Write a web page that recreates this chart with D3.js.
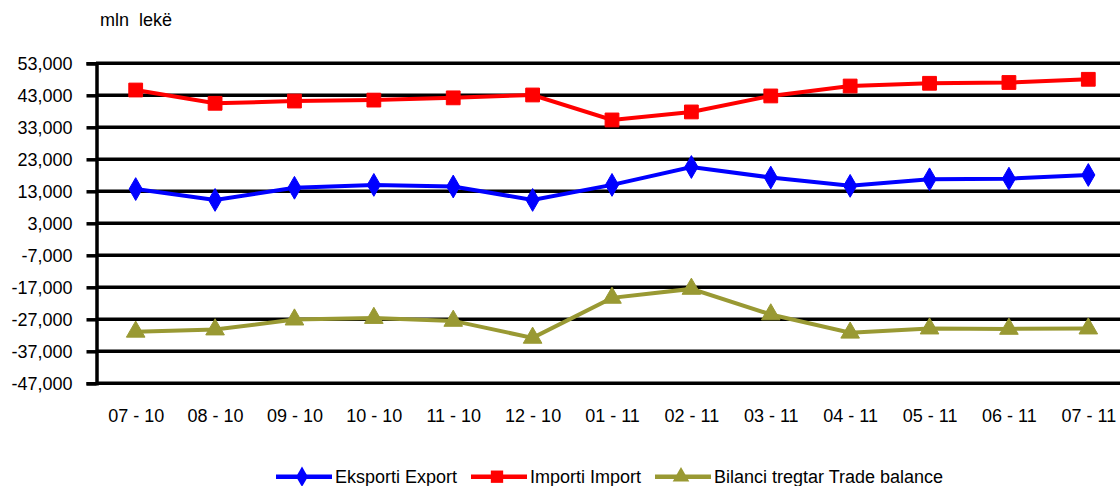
<!DOCTYPE html>
<html><head><meta charset="utf-8">
<script src="https://cdn.jsdelivr.net/npm/d3@7"></script>
<style>body{margin:0;background:#fff}svg{display:block;font-family:"Liberation Sans",Arial,sans-serif}</style>
</head><body><svg id="c" width="1120" height="486"></svg>
<script>
const categories = ["07 - 10","08 - 10","09 - 10","10 - 10","11 - 10","12 - 10","01 - 11","02 - 11","03 - 11","04 - 11","05 - 11","06 - 11","07 - 11"];
const exportVals = [13700,10300,14100,15000,14500,10300,15000,20600,17300,14700,16750,16950,18100];
const importVals = [44650,40500,41200,41500,42200,43100,35300,37800,42800,45900,46750,47000,48000];
const balanceVals = [-30900,-30200,-27100,-26600,-27500,-32800,-20300,-17500,-25500,-31200,-29900,-30000,-29900];
const yTicks = [53000,43000,33000,23000,13000,3000,-7000,-17000,-27000,-37000,-47000];
const seriesNames = ["Eksporti Export","Importi Import","Bilanci tregtar Trade balance"];

const svg = d3.select("#c");
const x = d3.scalePoint().domain(categories).range([96, 1128]).padding(0.5);
const y = d3.scaleLinear().domain([-47000, 53000]).range([383.3, 63.3]);

// gridlines
svg.append("g").selectAll("line").data(yTicks).join("line")
  .attr("x1", 96).attr("x2", 1130).attr("y1", d => y(d)).attr("y2", d => y(d))
  .attr("stroke", "#000").attr("stroke-width", 3.5);

// y axis
const fmt = d3.format(",");
const yAxis = d3.axisLeft(y).tickValues(yTicks).tickSize(10).tickPadding(14)
  .tickFormat(d => fmt(d).replace("\u2212", "-"));
const gy = svg.append("g").attr("transform", "translate(96.5,0)").call(yAxis);
gy.select(".domain").attr("stroke", "#000").attr("stroke-width", 3.5);
gy.selectAll(".tick line").attr("stroke", "#000").attr("stroke-width", 3.5);
gy.selectAll(".tick text").attr("font-size", 18).attr("fill", "#000")
  .attr("font-family", "Liberation Sans, Arial, sans-serif");

// x axis labels
const xAxis = d3.axisBottom(x).tickSize(0).tickPadding(26);
const gx = svg.append("g").attr("transform", "translate(0,383.3)").call(xAxis);
gx.select(".domain").remove();
gx.selectAll(".tick text").attr("font-size", 18).attr("fill", "#000")
  .attr("font-family", "Liberation Sans, Arial, sans-serif");

svg.append("text").attr("x", 100).attr("y", 26).attr("font-size", 18).attr("fill", "#000")
  .attr("xml:space", "preserve").text("mln  lekë");

const series = [
  {name: seriesNames[0], vals: exportVals, color: "#0000FF", sym: d3.symbolDiamond, size: 150},
  {name: seriesNames[1], vals: importVals, color: "#FF0000", sym: d3.symbolSquare, size: 190},
  {name: seriesNames[2], vals: balanceVals, color: "#999933", sym: d3.symbolTriangle, size: 150}
];
const line = d3.line().x((d, i) => x(categories[i])).y(d => y(d));
series.forEach(s => {
  svg.append("path").datum(s.vals).attr("d", line).attr("fill", "none")
    .attr("stroke", s.color).attr("stroke-width", 4);
  svg.append("g").selectAll("path").data(s.vals).join("path")
    .attr("transform", (d, i) => `translate(${x(categories[i])},${y(d)})`)
    .attr("d", d3.symbol().type(s.sym).size(s.size)).attr("fill", s.color)
    .attr("stroke", s.color).attr("stroke-width", 1).attr("stroke-linejoin", "round");
});

// legend
const legX = [276, 471, 655];
series.forEach((s, i) => {
  const g = svg.append("g").attr("transform", `translate(${legX[i]},476.7)`);
  g.append("line").attr("x1", 0).attr("x2", 56).attr("stroke", s.color).attr("stroke-width", 4.5);
  g.append("path").attr("transform", "translate(26,0)")
    .attr("d", d3.symbol().type(s.sym).size(s.size * 0.8)).attr("fill", s.color);
  g.append("text").attr("x", 59).attr("y", 6.6).attr("font-size", 18).attr("fill", "#000").text(s.name);
});
</script></body></html>
